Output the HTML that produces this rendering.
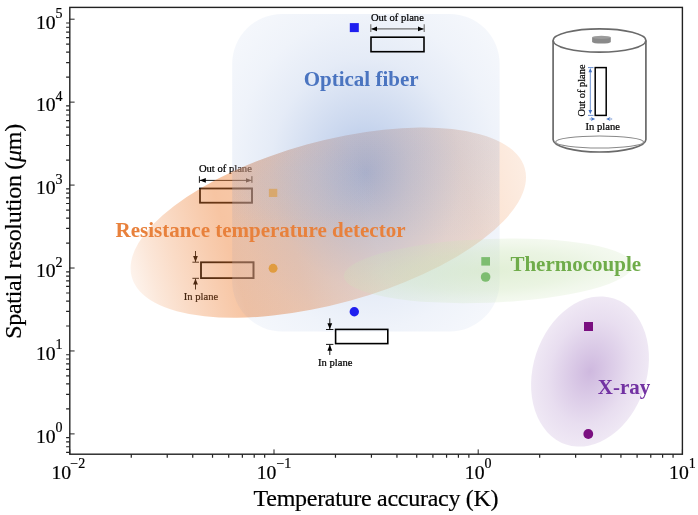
<!DOCTYPE html>
<html><head><meta charset="utf-8"><style>
html,body{margin:0;padding:0;background:#fff;}
svg{display:block;}
text{font-family:"Liberation Serif","Times New Roman",serif;}
</style></head><body>
<svg width="698" height="515" viewBox="0 0 698 515">
<defs>
  <radialGradient id="gBlue" cx="0.5" cy="0.5" r="0.7071">
    <stop offset="0" stop-color="#4472c4" stop-opacity="0.425"/>
    <stop offset="0.2333" stop-color="#4472c4" stop-opacity="0.28"/>
    <stop offset="0.5091" stop-color="#4472c4" stop-opacity="0.14"/>
    <stop offset="0.7071" stop-color="#4472c4" stop-opacity="0.085"/>
    <stop offset="1" stop-color="#4472c4" stop-opacity="0.04"/>
  </radialGradient>
  <linearGradient id="gOrange" x1="0" y1="0.5" x2="1" y2="0.5">
    <stop offset="0" stop-color="#ed7d31" stop-opacity="0.09"/>
    <stop offset="0.05" stop-color="#ed7d31" stop-opacity="0.18"/>
    <stop offset="0.11" stop-color="#ed7d31" stop-opacity="0.27"/>
    <stop offset="0.2" stop-color="#ed7d31" stop-opacity="0.39"/>
    <stop offset="0.25" stop-color="#ed7d31" stop-opacity="0.45"/>
    <stop offset="0.33" stop-color="#ed7d31" stop-opacity="0.42"/>
    <stop offset="0.4" stop-color="#ed7d31" stop-opacity="0.39"/>
    <stop offset="0.47" stop-color="#ed7d31" stop-opacity="0.33"/>
    <stop offset="0.6" stop-color="#ed7d31" stop-opacity="0.24"/>
    <stop offset="0.85" stop-color="#ed7d31" stop-opacity="0.235"/>
    <stop offset="1" stop-color="#ed7d31" stop-opacity="0.14"/>
  </linearGradient>
  <radialGradient id="gGreen" cx="0.5" cy="0.5" r="0.5">
    <stop offset="0" stop-color="#cce4b8" stop-opacity="0.58"/>
    <stop offset="0.6" stop-color="#cce4b8" stop-opacity="0.41"/>
    <stop offset="0.85" stop-color="#cce4b8" stop-opacity="0.28"/>
    <stop offset="1" stop-color="#cce4b8" stop-opacity="0.22"/>
  </radialGradient>
  <radialGradient id="gPurple" cx="0.5" cy="0.5" r="0.5">
    <stop offset="0" stop-color="#7030a0" stop-opacity="0.34"/>
    <stop offset="0.7" stop-color="#7030a0" stop-opacity="0.16"/>
    <stop offset="1" stop-color="#7030a0" stop-opacity="0.11"/>
  </radialGradient>
  <marker id="ah" viewBox="0 0 10 10" refX="10" refY="5" markerWidth="6" markerHeight="6" orient="auto-start-reverse" markerUnits="userSpaceOnUse">
    <path d="M0,1 L10,5 L0,9 z" fill="#000"/>
  </marker>
  <marker id="ahF" viewBox="0 0 10 10" refX="10" refY="5" markerWidth="6" markerHeight="6" orient="auto-start-reverse" markerUnits="userSpaceOnUse">
    <path d="M0,1 L10,5 L0,9 z" fill="#d6b2a2"/>
  </marker>
  <clipPath id="clipBlue"><rect x="232.2" y="13.9" width="267.4" height="317.6" rx="50" ry="50"/></clipPath>
  <clipPath id="clipOrange"><ellipse cx="328.3" cy="222.7" rx="203.9" ry="81" transform="rotate(-15.44 328.3 222.7)"/></clipPath>
  <radialGradient id="gTint" cx="0.5" cy="0.5" r="0.5">
    <stop offset="0" stop-color="#96c3f5" stop-opacity="0.13"/>
    <stop offset="0.5" stop-color="#96c3f5" stop-opacity="0.1"/>
    <stop offset="1" stop-color="#96c3f5" stop-opacity="0"/>
  </radialGradient>
  <linearGradient id="gExtra" gradientUnits="userSpaceOnUse" x1="0" y1="150" x2="0" y2="240">
    <stop offset="0" stop-color="#4472c4" stop-opacity="0.045"/>
    <stop offset="1" stop-color="#4472c4" stop-opacity="0"/>
  </linearGradient>
</defs>
<rect x="0" y="0" width="698" height="515" fill="#fff"/>

<!-- ===== RTD annotations (beneath colour overlays) ===== -->
<g stroke="#000" fill="#000">
  <rect x="200" y="188.5" width="52" height="14.2" fill="none" stroke-width="1.8"/>
  <rect x="201" y="262.3" width="52.5" height="15.8" fill="none" stroke-width="1.8"/>
  <g fill="none" stroke-width="0.9">
    <line x1="199.4" y1="176.2" x2="199.4" y2="182.8"/>
    <line x1="251.9" y1="176.2" x2="251.9" y2="182.8"/>
    <line x1="199.8" y1="180.4" x2="251.5" y2="180.4" marker-start="url(#ah)" marker-end="url(#ah)"/>
    <line x1="192.4" y1="262.2" x2="199" y2="262.2"/>
    <line x1="192.4" y1="278.3" x2="199" y2="278.3"/>
    <line x1="195.5" y1="251" x2="195.5" y2="261.9" marker-end="url(#ah)"/>
    <line x1="195.5" y1="289.5" x2="195.5" y2="278.6" marker-end="url(#ah)"/>
  </g>
  <g font-size="10.6" stroke-width="0.22">
    <text x="198.9" y="172.4">Out of plane</text>
    <text x="183.8" y="299.6">In plane</text>
  </g>
</g>

<!-- ===== colour regions ===== -->
<ellipse cx="328.3" cy="222.7" rx="203.9" ry="81" transform="rotate(-15.44 328.3 222.7)" fill="url(#gOrange)"/>
<rect x="232.2" y="13.9" width="267.4" height="317.6" rx="50" ry="50" fill="url(#gBlue)"/>
<!-- extra tint where blue overlaps orange -->
<g clip-path="url(#clipOrange)">
  <g clip-path="url(#clipBlue)">
    <rect x="232.2" y="13.9" width="267.4" height="317.6" fill="url(#gExtra)"/>
    <ellipse cx="298" cy="192" rx="80" ry="50" fill="url(#gTint)"/>
  </g>
</g>
<!-- fade of RTD annotations where the blue box overlays them -->
<g stroke="#d6b2a2" fill="#d6b2a2" clip-path="url(#clipBlue)" opacity="0.3">
  <rect x="200" y="188.5" width="52" height="14.2" fill="none" stroke-width="1.8"/>
  <rect x="201" y="262.3" width="52.5" height="15.8" fill="none" stroke-width="1.8"/>
  <g fill="none" stroke-width="0.9">
    <line x1="199.4" y1="176.2" x2="199.4" y2="182.8"/>
    <line x1="251.9" y1="176.2" x2="251.9" y2="182.8"/>
    <line x1="199.8" y1="180.4" x2="251.5" y2="180.4" marker-start="url(#ahF)" marker-end="url(#ahF)"/>
    <line x1="192.4" y1="262.2" x2="199" y2="262.2"/>
    <line x1="192.4" y1="278.3" x2="199" y2="278.3"/>
    <line x1="195.5" y1="251" x2="195.5" y2="261.9" marker-end="url(#ahF)"/>
    <line x1="195.5" y1="289.5" x2="195.5" y2="278.6" marker-end="url(#ahF)"/>
  </g>
  <g font-size="10.6" stroke-width="0.22">
    <text x="198.9" y="172.4">Out of plane</text>
    <text x="183.8" y="299.6">In plane</text>
  </g>
</g>
<ellipse cx="488.2" cy="270.8" rx="144.5" ry="31.9" transform="rotate(-2.2 488.2 270.8)" fill="url(#gGreen)"/>
<ellipse cx="590" cy="371.5" rx="56.7" ry="76.8" transform="rotate(18.15 590 371.5)" fill="url(#gPurple)"/>

<!-- ===== optical-fibre annotations ===== -->
<g fill="none" stroke="#000" stroke-width="1.6">
  <rect x="371" y="37.2" width="53" height="14.5"/>
  <rect x="335.6" y="329.4" width="52.2" height="14.2"/>
</g>
<g fill="none" stroke="#000" stroke-width="0.9">
  <line x1="326" y1="329.5" x2="333.4" y2="329.5"/>
  <line x1="326" y1="344.4" x2="333.4" y2="344.4"/>
  <line x1="329.8" y1="318.3" x2="329.8" y2="329.2" marker-end="url(#ah)"/>
  <line x1="329.8" y1="355" x2="329.8" y2="344.7" marker-end="url(#ah)"/>
</g>
<g fill="none" stroke="#707070" stroke-width="1.1">
  <line x1="370.8" y1="24.2" x2="370.8" y2="31.9"/>
  <line x1="424.2" y1="24.2" x2="424.2" y2="31.9"/>
  <line x1="371.3" y1="28.9" x2="423.7" y2="28.9" marker-start="url(#ah)" marker-end="url(#ah)"/>
</g>
<g font-size="10.6" fill="#000" stroke="#000" stroke-width="0.22">
  <text x="370.9" y="21.2">Out of plane</text>
  <text x="318.1" y="366.4">In plane</text>
</g>

<!-- ===== markers ===== -->
<rect x="349.8" y="23.1" width="9" height="9" fill="#1f1fef"/>
<circle cx="354.3" cy="311.8" r="4.7" fill="#1f1fef"/>
<rect x="268.9" y="188.8" width="8.4" height="8.2" fill="#d8a86e"/>
<circle cx="273.1" cy="268.3" r="4.45" fill="#e09c40"/>
<rect x="481.3" y="257.1" width="8.7" height="8.5" fill="#7dbd70"/>
<circle cx="485.6" cy="277" r="4.8" fill="#7dbd70"/>
<rect x="584" y="322" width="9" height="9" fill="#7a0f80"/>
<circle cx="588.3" cy="434" r="4.9" fill="#7a0f80"/>

<!-- ===== region labels ===== -->
<g font-weight="bold" font-size="21">
  <text x="303.7" y="86.3" fill="#4a74c0">Optical fiber</text>
  <text x="115.5" y="237.2" fill="#e8813c">Resistance temperature detector</text>
  <text x="510.4" y="270.8" fill="#6fac4a">Thermocouple</text>
  <text x="597.8" y="394.4" fill="#7232a2">X-ray</text>
</g>

<!-- ===== axes ===== -->
<g stroke="#222" fill="none">
  <rect x="69.8" y="7.4" width="612.6" height="446.8" stroke-width="1.4"/>
  <path id="ticks" stroke-width="1" d="M69.80,454.2V449.4M274.00,454.2V449.4M478.20,454.2V449.4M682.40,454.2V449.4M69.6,433.90H74.6M69.6,350.96H74.6M69.6,268.02H74.6M69.6,185.08H74.6M69.6,102.14H74.6M69.6,19.20H74.6"/>
  <path id="mticks" stroke-width="1.2" d="M131.27,454.2V457.7M167.23,454.2V457.7M192.74,454.2V457.7M212.53,454.2V457.7M228.70,454.2V457.7M242.37,454.2V457.7M254.21,454.2V457.7M264.66,454.2V457.7M335.47,454.2V457.7M371.43,454.2V457.7M396.94,454.2V457.7M416.73,454.2V457.7M432.90,454.2V457.7M446.57,454.2V457.7M458.41,454.2V457.7M468.86,454.2V457.7M539.67,454.2V457.7M575.63,454.2V457.7M601.14,454.2V457.7M620.93,454.2V457.7M637.10,454.2V457.7M650.77,454.2V457.7M662.61,454.2V457.7M673.06,454.2V457.7M69.6,452.30H66.1M69.6,446.75H66.1M69.6,441.94H66.1M69.6,437.70H66.1M69.6,408.93H66.1M69.6,394.33H66.1M69.6,383.97H66.1M69.6,375.93H66.1M69.6,369.36H66.1M69.6,363.81H66.1M69.6,359.00H66.1M69.6,354.76H66.1M69.6,325.99H66.1M69.6,311.39H66.1M69.6,301.03H66.1M69.6,292.99H66.1M69.6,286.42H66.1M69.6,280.87H66.1M69.6,276.06H66.1M69.6,271.82H66.1M69.6,243.05H66.1M69.6,228.45H66.1M69.6,218.09H66.1M69.6,210.05H66.1M69.6,203.48H66.1M69.6,197.93H66.1M69.6,193.12H66.1M69.6,188.88H66.1M69.6,160.11H66.1M69.6,145.51H66.1M69.6,135.15H66.1M69.6,127.11H66.1M69.6,120.54H66.1M69.6,114.99H66.1M69.6,110.18H66.1M69.6,105.94H66.1M69.6,77.17H66.1M69.6,62.57H66.1M69.6,52.21H66.1M69.6,44.17H66.1M69.6,37.60H66.1M69.6,32.05H66.1M69.6,27.24H66.1M69.6,23.00H66.1"/>
</g>
<g id="ticklabels" font-size="19.7" fill="#000" stroke="#000" stroke-width="0.2">
<text x="68.3" y="478.6" text-anchor="middle">10<tspan dx="-0.8" dy="-10.8" font-size="14">−2</tspan></text>
<text x="274.00" y="478.6" text-anchor="middle">10<tspan dy="-10.8" font-size="14">−1</tspan></text>
<text x="478.20" y="478.6" text-anchor="middle">10<tspan dy="-10.8" font-size="14">0</tspan></text>
<text x="682.40" y="478.6" text-anchor="middle">10<tspan dy="-10.8" font-size="14">1</tspan></text>
<text x="62.6" y="443.20" text-anchor="end">10<tspan dy="-10.8" font-size="14">0</tspan></text>
<text x="62.6" y="360.26" text-anchor="end">10<tspan dy="-10.8" font-size="14">1</tspan></text>
<text x="62.6" y="277.32" text-anchor="end">10<tspan dy="-10.8" font-size="14">2</tspan></text>
<text x="62.6" y="194.38" text-anchor="end">10<tspan dy="-10.8" font-size="14">3</tspan></text>
<text x="62.6" y="111.44" text-anchor="end">10<tspan dy="-10.8" font-size="14">4</tspan></text>
<text x="62.6" y="28.50" text-anchor="end">10<tspan dy="-10.8" font-size="14">5</tspan></text>
</g>
<text x="253.6" y="506" font-size="24" textLength="245" lengthAdjust="spacing" fill="#000" stroke="#000" stroke-width="0.2">Temperature accuracy (K)</text>
<text transform="translate(20.8 338.8) rotate(-90)" font-size="24" textLength="215" lengthAdjust="spacing" fill="#000" stroke="#000" stroke-width="0.2">Spatial resolution (<tspan font-style="italic">μ</tspan>m)</text>

<!-- ===== inset cylinder ===== -->
<g id="inset">
  <path d="M553.1,40.5 V139.5 A46.4,12.5 0 0 0 645.9,139.5 V40.5" fill="none" stroke="#6a6a6a" stroke-width="1.7"/>
  <ellipse cx="599.5" cy="40.5" rx="46.4" ry="11.6" fill="#fff" stroke="#6a6a6a" stroke-width="1.7"/>
  <ellipse cx="599.6" cy="142" rx="44" ry="6" fill="none" stroke="#8a8a8a" stroke-width="1.2"/>
  <path d="M592.1,37.3 V42.1 A9.35,1.5 0 0 0 610.8,42.1 V37.3 Z" fill="#8a8a8a"/>
  <ellipse cx="601.45" cy="37.3" rx="9.35" ry="1.6" fill="#9c9c9c"/>
  <rect x="595.2" y="67.6" width="11" height="47.8" fill="none" stroke="#000" stroke-width="1.5"/>
  <g stroke="#4472c4" stroke-width="0.8" fill="none">
    <path d="M588,67.6 H593.5 M588,115.4 H593.5 M590.3,70 V112"/>
    <path d="M589.6,119 H592.5 M610.2,119 H612.2"/>
  </g>
  <g fill="#4472c4" stroke="none">
    <path d="M590.3,67.9 L592.1,72.2 L588.5,72.2 Z"/>
    <path d="M590.3,114.2 L592.1,109.9 L588.5,109.9 Z"/>
    <path d="M595.2,119 L590.8,117.1 L592,119 L590.8,120.9 Z"/>
    <path d="M606.1,119 L610.5,117.1 L609.3,119 L610.5,120.9 Z"/>
  </g>
  <text x="585.6" y="130.4" font-size="10.6" fill="#000" stroke="#000" stroke-width="0.22">In plane</text>
  <text transform="translate(585.4 116.4) rotate(-90)" font-size="10.4" fill="#000" stroke="#000" stroke-width="0.22">Out of plane</text>
</g>
</svg>
</body></html>
